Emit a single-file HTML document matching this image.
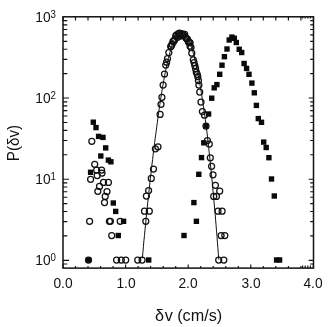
<!DOCTYPE html>
<html><head><meta charset="utf-8"><style>
html,body{margin:0;padding:0;background:#fff;}
body{width:329px;height:327px;position:relative;overflow:hidden;filter:blur(0.35px);font-family:"Liberation Sans",sans-serif;color:#111;}
.t{position:absolute;font-size:14.8px;line-height:13px;white-space:nowrap;}
.yl{text-align:right;width:30px;left:26.2px;transform:scaleX(0.93);transform-origin:100% 50%;}
.yl sup{font-size:10.4px;line-height:0;vertical-align:baseline;position:relative;top:-4.2px;left:-0.2px}
.xl{width:40px;text-align:center;top:277.0px;transform:scaleX(0.93);}
</style></head><body>
<svg width="329" height="327" viewBox="0 0 329 327" style="position:absolute;left:0;top:0">
<rect x="63" y="16.8" width="250.5" height="251.3" fill="none" stroke="#111" stroke-width="1.5"/>
<path d="M63.0,268.1 v-3.6 M63.0,16.8 v4.2 M75.5,268.1 v-2.2 M75.5,16.8 v3.6 M88.0,268.1 v-2.2 M88.0,16.8 v3.6 M100.6,268.1 v-2.2 M100.6,16.8 v3.6 M113.1,268.1 v-2.2 M113.1,16.8 v3.6 M125.6,268.1 v-3.6 M125.6,16.8 v4.2 M138.1,268.1 v-2.2 M138.1,16.8 v3.6 M150.6,268.1 v-2.2 M150.6,16.8 v3.6 M163.2,268.1 v-2.2 M163.2,16.8 v3.6 M175.7,268.1 v-2.2 M175.7,16.8 v3.6 M188.2,268.1 v-3.6 M188.2,16.8 v4.2 M200.7,268.1 v-2.2 M200.7,16.8 v3.6 M213.2,268.1 v-2.2 M213.2,16.8 v3.6 M225.8,268.1 v-2.2 M225.8,16.8 v3.6 M238.3,268.1 v-2.2 M238.3,16.8 v3.6 M250.8,268.1 v-3.6 M250.8,16.8 v4.2 M263.3,268.1 v-2.2 M263.3,16.8 v3.6 M275.8,268.1 v-2.2 M275.8,16.8 v3.6 M288.4,268.1 v-2.2 M288.4,16.8 v3.6 M300.9,268.1 v-2.2 M300.9,16.8 v3.6 M313.4,268.1 v-3.6 M313.4,16.8 v4.2 M63,260.3 h6 M313.5,260.3 h-4.8 M63,235.9 h4.3 M313.5,235.9 h-3.3 M63,221.6 h4.3 M313.5,221.6 h-3.3 M63,211.5 h4.3 M313.5,211.5 h-3.3 M63,203.6 h4.3 M313.5,203.6 h-3.3 M63,197.2 h4.3 M313.5,197.2 h-3.3 M63,191.7 h4.3 M313.5,191.7 h-3.3 M63,187.0 h4.3 M313.5,187.0 h-3.3 M63,182.9 h4.3 M313.5,182.9 h-3.3 M63,179.2 h6 M313.5,179.2 h-4.8 M63,154.7 h4.3 M313.5,154.7 h-3.3 M63,140.5 h4.3 M313.5,140.5 h-3.3 M63,130.3 h4.3 M313.5,130.3 h-3.3 M63,122.5 h4.3 M313.5,122.5 h-3.3 M63,116.0 h4.3 M313.5,116.0 h-3.3 M63,110.6 h4.3 M313.5,110.6 h-3.3 M63,105.9 h4.3 M313.5,105.9 h-3.3 M63,101.8 h4.3 M313.5,101.8 h-3.3 M63,98.0 h6 M313.5,98.0 h-4.8 M63,73.6 h4.3 M313.5,73.6 h-3.3 M63,59.3 h4.3 M313.5,59.3 h-3.3 M63,49.2 h4.3 M313.5,49.2 h-3.3 M63,41.3 h4.3 M313.5,41.3 h-3.3 M63,34.9 h4.3 M313.5,34.9 h-3.3 M63,29.5 h4.3 M313.5,29.5 h-3.3 M63,24.8 h4.3 M313.5,24.8 h-3.3 M63,20.6 h4.3 M313.5,20.6 h-3.3 M63,264.0 h4.3 M313.5,264.0 h-3.3 M302.6,268.1 v-2.6 M302.6,16.8 v1.8 M305.2,268.1 v-2.6 M305.2,16.8 v1.8 M307.8,268.1 v-2.6 M307.8,16.8 v1.8 M310.4,268.1 v-2.6 M310.4,16.8 v1.8" stroke="#111" stroke-width="1.15" fill="none"/>
<path d="M142.3,258.4 L142.9,252.5 L143.4,246.7 L143.9,240.9 L144.5,235.3 L145.0,229.7 L145.6,224.2 L146.1,218.7 L146.7,213.4 L147.2,208.1 L147.7,202.9 L148.3,197.8 L148.8,192.7 L149.4,187.8 L149.9,182.9 L150.4,178.1 L151.0,173.3 L151.5,168.7 L152.0,164.1 L152.6,159.6 L153.1,155.2 L153.6,150.8 L154.2,146.5 L154.7,142.4 L155.2,138.2 L155.8,134.2 L156.3,130.2 L156.8,126.4 L157.3,122.6 L157.8,118.8 L158.3,115.2 L158.8,111.6 L159.3,108.1 L159.8,104.7 L160.3,101.4 L160.8,98.1 L161.3,95.0 L161.8,91.8 L162.3,88.8 L162.8,85.9 L163.3,83.0 L163.8,80.2 L164.3,77.5 L164.8,74.9 L165.3,72.3 L165.8,69.8 L166.3,67.4 L166.8,65.1 L167.3,62.9 L167.8,60.7 L168.3,58.6 L168.8,56.6 L169.3,54.6 L169.8,52.8 L170.3,51.0 L170.8,49.3 L171.3,47.7 L171.8,46.1 L172.3,44.7 L172.8,43.3 L173.3,42.0 L173.8,40.7 L174.3,39.6 L174.8,38.5 L175.3,37.5 L175.8,36.6 L176.3,35.7 L176.8,34.9 L177.3,34.2 L177.8,33.6 L178.3,33.1 L178.8,32.6 L179.3,32.3 L179.8,31.9 L180.3,31.7 L180.8,31.6 L181.3,31.5 L181.8,31.5 L182.3,31.6 L182.8,31.8 L183.3,32.0 L183.8,32.3 L184.3,32.7 L184.8,33.2 L185.3,33.7 L185.8,34.4 L186.3,35.1 L186.8,35.9 L187.3,36.7 L187.8,37.7 L188.3,38.7 L188.8,39.8 L189.3,41.0 L189.8,42.2 L190.3,43.5 L190.8,44.9 L191.3,46.4 L191.8,48.0 L192.3,49.6 L192.8,51.4 L193.3,53.2 L193.8,55.0 L194.3,57.0 L194.8,59.0 L195.3,61.1 L195.8,63.3 L196.3,65.6 L196.8,67.9 L197.3,70.3 L197.8,72.8 L198.3,75.4 L198.8,78.0 L199.3,80.8 L199.8,83.6 L200.3,86.5 L200.8,89.4 L201.3,92.5 L201.8,95.6 L202.3,98.8 L202.8,102.0 L203.3,105.4 L203.8,108.8 L204.3,112.3 L204.8,115.9 L205.3,119.6 L205.8,123.3 L206.3,127.1 L206.8,131.0 L207.3,135.0 L207.7,139.1 L208.2,143.2 L208.7,147.4 L209.1,151.7 L209.6,156.0 L210.1,160.5 L210.5,165.0 L211.0,169.6 L211.5,174.3 L211.9,179.0 L212.4,183.8 L212.8,188.7 L213.3,193.7 L213.8,198.8 L214.2,203.9 L214.7,209.1 L215.2,214.4 L215.6,219.8 L216.1,225.3 L216.5,230.8 L217.0,236.4 L217.4,242.1 L217.9,247.8 L218.3,253.7 L218.8,259.6" stroke="#111" stroke-width="1" fill="none"/>
<rect x="90.6" y="119.5" width="5.4" height="5.4" fill="#0a0a0a"/>
<rect x="93.3" y="124.9" width="5.4" height="5.4" fill="#0a0a0a"/>
<rect x="95.9" y="133.7" width="5.4" height="5.4" fill="#0a0a0a"/>
<rect x="100.3" y="134.7" width="5.4" height="5.4" fill="#0a0a0a"/>
<rect x="103.0" y="145.2" width="5.4" height="5.4" fill="#0a0a0a"/>
<rect x="98.1" y="153.3" width="5.4" height="5.4" fill="#0a0a0a"/>
<rect x="105.7" y="157.4" width="5.4" height="5.4" fill="#0a0a0a"/>
<rect x="108.2" y="159.1" width="5.4" height="5.4" fill="#0a0a0a"/>
<rect x="87.9" y="169.6" width="5.4" height="5.4" fill="#0a0a0a"/>
<rect x="110.6" y="200.3" width="5.4" height="5.4" fill="#0a0a0a"/>
<rect x="113.0" y="208.7" width="5.4" height="5.4" fill="#0a0a0a"/>
<rect x="120.9" y="218.6" width="5.4" height="5.4" fill="#0a0a0a"/>
<rect x="115.6" y="232.8" width="5.4" height="5.4" fill="#0a0a0a"/>
<rect x="85.8" y="257.3" width="5.4" height="5.4" fill="#0a0a0a"/>
<rect x="146.0" y="257.3" width="5.4" height="5.4" fill="#0a0a0a"/>
<rect x="181.3" y="232.8" width="5.4" height="5.4" fill="#0a0a0a"/>
<rect x="193.7" y="218.6" width="5.4" height="5.4" fill="#0a0a0a"/>
<rect x="191.2" y="199.9" width="5.4" height="5.4" fill="#0a0a0a"/>
<rect x="196.1" y="171.6" width="5.4" height="5.4" fill="#0a0a0a"/>
<rect x="198.8" y="154.9" width="5.4" height="5.4" fill="#0a0a0a"/>
<rect x="201.1" y="140.1" width="5.4" height="5.4" fill="#0a0a0a"/>
<rect x="203.3" y="123.3" width="5.4" height="5.4" fill="#0a0a0a"/>
<rect x="205.9" y="111.3" width="5.4" height="5.4" fill="#0a0a0a"/>
<rect x="209.0" y="95.5" width="5.4" height="5.4" fill="#0a0a0a"/>
<rect x="211.5" y="85.1" width="5.4" height="5.4" fill="#0a0a0a"/>
<rect x="214.2" y="81.9" width="5.4" height="5.4" fill="#0a0a0a"/>
<rect x="217.0" y="71.6" width="5.4" height="5.4" fill="#0a0a0a"/>
<rect x="219.3" y="62.5" width="5.4" height="5.4" fill="#0a0a0a"/>
<rect x="221.7" y="54.0" width="5.4" height="5.4" fill="#0a0a0a"/>
<rect x="224.3" y="46.3" width="5.4" height="5.4" fill="#0a0a0a"/>
<rect x="226.5" y="37.3" width="5.4" height="5.4" fill="#0a0a0a"/>
<rect x="229.2" y="34.4" width="5.4" height="5.4" fill="#0a0a0a"/>
<rect x="231.6" y="35.6" width="5.4" height="5.4" fill="#0a0a0a"/>
<rect x="233.6" y="39.8" width="5.4" height="5.4" fill="#0a0a0a"/>
<rect x="236.5" y="46.6" width="5.4" height="5.4" fill="#0a0a0a"/>
<rect x="239.0" y="49.8" width="5.4" height="5.4" fill="#0a0a0a"/>
<rect x="241.4" y="60.8" width="5.4" height="5.4" fill="#0a0a0a"/>
<rect x="243.9" y="65.7" width="5.4" height="5.4" fill="#0a0a0a"/>
<rect x="246.3" y="71.6" width="5.4" height="5.4" fill="#0a0a0a"/>
<rect x="249.2" y="80.4" width="5.4" height="5.4" fill="#0a0a0a"/>
<rect x="251.6" y="90.1" width="5.4" height="5.4" fill="#0a0a0a"/>
<rect x="253.7" y="102.7" width="5.4" height="5.4" fill="#0a0a0a"/>
<rect x="255.6" y="115.9" width="5.4" height="5.4" fill="#0a0a0a"/>
<rect x="258.8" y="119.6" width="5.4" height="5.4" fill="#0a0a0a"/>
<rect x="261.0" y="139.4" width="5.4" height="5.4" fill="#0a0a0a"/>
<rect x="263.5" y="144.8" width="5.4" height="5.4" fill="#0a0a0a"/>
<rect x="266.2" y="155.0" width="5.4" height="5.4" fill="#0a0a0a"/>
<rect x="268.8" y="176.3" width="5.4" height="5.4" fill="#0a0a0a"/>
<rect x="271.6" y="193.3" width="5.4" height="5.4" fill="#0a0a0a"/>
<rect x="273.9" y="257.3" width="5.4" height="5.4" fill="#0a0a0a"/>
<rect x="276.9" y="257.3" width="5.4" height="5.4" fill="#0a0a0a"/>
<circle cx="91.8" cy="141.3" r="3" fill="none" stroke="#111" stroke-width="1.25"/>
<circle cx="94.7" cy="164.3" r="3" fill="none" stroke="#111" stroke-width="1.25"/>
<circle cx="96.7" cy="170" r="3" fill="none" stroke="#111" stroke-width="1.25"/>
<circle cx="101.6" cy="170" r="3" fill="none" stroke="#111" stroke-width="1.25"/>
<circle cx="102" cy="173" r="3" fill="none" stroke="#111" stroke-width="1.25"/>
<circle cx="97.2" cy="175.5" r="3" fill="none" stroke="#111" stroke-width="1.25"/>
<circle cx="90.6" cy="179.3" r="3" fill="none" stroke="#111" stroke-width="1.25"/>
<circle cx="103.5" cy="182.4" r="3" fill="none" stroke="#111" stroke-width="1.25"/>
<circle cx="108.4" cy="182.4" r="3" fill="none" stroke="#111" stroke-width="1.25"/>
<circle cx="99.5" cy="186.4" r="3" fill="none" stroke="#111" stroke-width="1.25"/>
<circle cx="97.8" cy="191.3" r="3" fill="none" stroke="#111" stroke-width="1.25"/>
<circle cx="107" cy="191.5" r="3" fill="none" stroke="#111" stroke-width="1.25"/>
<circle cx="105.2" cy="196.4" r="3" fill="none" stroke="#111" stroke-width="1.25"/>
<circle cx="104.5" cy="202.5" r="3" fill="none" stroke="#111" stroke-width="1.25"/>
<circle cx="89.6" cy="221.3" r="3" fill="none" stroke="#111" stroke-width="1.25"/>
<circle cx="109.4" cy="221.3" r="3" fill="none" stroke="#111" stroke-width="1.25"/>
<circle cx="110.4" cy="221.3" r="3" fill="none" stroke="#111" stroke-width="1.25"/>
<circle cx="120.2" cy="221.3" r="3" fill="none" stroke="#111" stroke-width="1.25"/>
<circle cx="111.7" cy="235.5" r="3" fill="none" stroke="#111" stroke-width="1.25"/>
<circle cx="88.5" cy="260" r="3" fill="none" stroke="#111" stroke-width="1.25"/>
<circle cx="116.6" cy="260" r="3" fill="none" stroke="#111" stroke-width="1.25"/>
<circle cx="121.3" cy="260" r="3" fill="none" stroke="#111" stroke-width="1.25"/>
<circle cx="125.7" cy="260" r="3" fill="none" stroke="#111" stroke-width="1.25"/>
<circle cx="137.7" cy="260" r="3" fill="none" stroke="#111" stroke-width="1.25"/>
<circle cx="142.1" cy="260" r="3" fill="none" stroke="#111" stroke-width="1.25"/>
<circle cx="145.8" cy="221.3" r="3" fill="none" stroke="#111" stroke-width="1.25"/>
<circle cx="144.5" cy="211.2" r="3" fill="none" stroke="#111" stroke-width="1.25"/>
<circle cx="149.3" cy="211.2" r="3" fill="none" stroke="#111" stroke-width="1.25"/>
<circle cx="146.4" cy="196" r="3" fill="none" stroke="#111" stroke-width="1.25"/>
<circle cx="148.6" cy="190.6" r="3" fill="none" stroke="#111" stroke-width="1.25"/>
<circle cx="151.3" cy="178.4" r="3" fill="none" stroke="#111" stroke-width="1.25"/>
<circle cx="153.5" cy="169.1" r="3" fill="none" stroke="#111" stroke-width="1.25"/>
<circle cx="155.4" cy="148.8" r="3" fill="none" stroke="#111" stroke-width="1.25"/>
<circle cx="158" cy="146.8" r="3" fill="none" stroke="#111" stroke-width="1.25"/>
<circle cx="160.1" cy="114.4" r="3" fill="none" stroke="#111" stroke-width="1.25"/>
<circle cx="161" cy="104.3" r="3" fill="none" stroke="#111" stroke-width="1.25"/>
<circle cx="161.9" cy="97.3" r="3" fill="none" stroke="#111" stroke-width="1.25"/>
<circle cx="163.1" cy="85.1" r="3" fill="none" stroke="#111" stroke-width="1.25"/>
<circle cx="164.5" cy="74" r="3" fill="none" stroke="#111" stroke-width="1.25"/>
<circle cx="165.7" cy="65" r="3" fill="none" stroke="#111" stroke-width="1.25"/>
<circle cx="167.5" cy="58.5" r="3" fill="none" stroke="#111" stroke-width="1.25"/>
<circle cx="166.6" cy="62.2" r="3" fill="none" stroke="#111" stroke-width="1.25"/>
<circle cx="168.8" cy="52.5" r="3" fill="none" stroke="#111" stroke-width="1.25"/>
<circle cx="170.7" cy="46.5" r="3" fill="none" stroke="#111" stroke-width="1.25"/>
<circle cx="194.1" cy="62.5" r="3" fill="none" stroke="#111" stroke-width="1.25"/>
<circle cx="195.6" cy="68.7" r="3" fill="none" stroke="#111" stroke-width="1.25"/>
<circle cx="197.2" cy="74.3" r="3" fill="none" stroke="#111" stroke-width="1.25"/>
<circle cx="198.4" cy="80.5" r="3" fill="none" stroke="#111" stroke-width="1.25"/>
<circle cx="190" cy="46" r="3" fill="none" stroke="#111" stroke-width="1.25"/>
<circle cx="191.8" cy="53.2" r="3" fill="none" stroke="#111" stroke-width="1.25"/>
<circle cx="193.3" cy="59.8" r="3" fill="none" stroke="#111" stroke-width="1.25"/>
<circle cx="194.8" cy="65.5" r="3" fill="none" stroke="#111" stroke-width="1.25"/>
<circle cx="196.3" cy="72" r="3" fill="none" stroke="#111" stroke-width="1.25"/>
<circle cx="197.8" cy="76.7" r="3" fill="none" stroke="#111" stroke-width="1.25"/>
<circle cx="198.9" cy="85" r="3" fill="none" stroke="#111" stroke-width="1.25"/>
<circle cx="199.7" cy="92" r="3" fill="none" stroke="#111" stroke-width="1.25"/>
<circle cx="201" cy="102" r="3" fill="none" stroke="#111" stroke-width="1.25"/>
<circle cx="202.4" cy="111.5" r="3" fill="none" stroke="#111" stroke-width="1.25"/>
<circle cx="204.5" cy="115.2" r="3" fill="none" stroke="#111" stroke-width="1.25"/>
<circle cx="206" cy="126" r="3" fill="none" stroke="#111" stroke-width="1.25"/>
<circle cx="207.4" cy="140.6" r="3" fill="none" stroke="#111" stroke-width="1.25"/>
<circle cx="209.3" cy="144" r="3" fill="none" stroke="#111" stroke-width="1.25"/>
<circle cx="210.3" cy="157.8" r="3" fill="none" stroke="#111" stroke-width="1.25"/>
<circle cx="211.6" cy="166.3" r="3" fill="none" stroke="#111" stroke-width="1.25"/>
<circle cx="213" cy="174.8" r="3" fill="none" stroke="#111" stroke-width="1.25"/>
<circle cx="215.4" cy="185.3" r="3" fill="none" stroke="#111" stroke-width="1.25"/>
<circle cx="219.7" cy="191" r="3" fill="none" stroke="#111" stroke-width="1.25"/>
<circle cx="213.7" cy="196.4" r="3" fill="none" stroke="#111" stroke-width="1.25"/>
<circle cx="216.4" cy="196.4" r="3" fill="none" stroke="#111" stroke-width="1.25"/>
<circle cx="218" cy="211.2" r="3" fill="none" stroke="#111" stroke-width="1.25"/>
<circle cx="222.1" cy="211.2" r="3" fill="none" stroke="#111" stroke-width="1.25"/>
<circle cx="221.1" cy="235.6" r="3" fill="none" stroke="#111" stroke-width="1.25"/>
<circle cx="224.8" cy="235.6" r="3" fill="none" stroke="#111" stroke-width="1.25"/>
<circle cx="218.7" cy="260" r="3" fill="none" stroke="#111" stroke-width="1.25"/>
<circle cx="223.8" cy="260" r="3" fill="none" stroke="#111" stroke-width="1.25"/>
<circle cx="171.2" cy="46.0" r="3" fill="none" stroke="#111" stroke-width="1.25"/>
<circle cx="172.1" cy="44.2" r="3" fill="none" stroke="#111" stroke-width="1.25"/>
<circle cx="173.0" cy="41.3" r="3" fill="none" stroke="#111" stroke-width="1.25"/>
<circle cx="173.9" cy="41.2" r="3" fill="none" stroke="#111" stroke-width="1.25"/>
<circle cx="174.8" cy="39.4" r="3" fill="none" stroke="#111" stroke-width="1.25"/>
<circle cx="175.7" cy="35.8" r="3" fill="none" stroke="#111" stroke-width="1.25"/>
<circle cx="176.6" cy="34.8" r="3" fill="none" stroke="#111" stroke-width="1.25"/>
<circle cx="177.5" cy="37.2" r="3" fill="none" stroke="#111" stroke-width="1.25"/>
<circle cx="178.4" cy="33.8" r="3" fill="none" stroke="#111" stroke-width="1.25"/>
<circle cx="179.3" cy="33.1" r="3" fill="none" stroke="#111" stroke-width="1.25"/>
<circle cx="180.2" cy="36.0" r="3" fill="none" stroke="#111" stroke-width="1.25"/>
<circle cx="181.1" cy="33.6" r="3" fill="none" stroke="#111" stroke-width="1.25"/>
<circle cx="182.0" cy="35.3" r="3" fill="none" stroke="#111" stroke-width="1.25"/>
<circle cx="182.9" cy="34.2" r="3" fill="none" stroke="#111" stroke-width="1.25"/>
<circle cx="183.8" cy="35.5" r="3" fill="none" stroke="#111" stroke-width="1.25"/>
<circle cx="184.7" cy="34.3" r="3" fill="none" stroke="#111" stroke-width="1.25"/>
<circle cx="185.6" cy="37.5" r="3" fill="none" stroke="#111" stroke-width="1.25"/>
<circle cx="186.5" cy="38.6" r="3" fill="none" stroke="#111" stroke-width="1.25"/>
<circle cx="187.4" cy="39.0" r="3" fill="none" stroke="#111" stroke-width="1.25"/>
<circle cx="188.3" cy="41.7" r="3" fill="none" stroke="#111" stroke-width="1.25"/>
<circle cx="189.2" cy="42.2" r="3" fill="none" stroke="#111" stroke-width="1.25"/>
<circle cx="190.1" cy="42.8" r="3" fill="none" stroke="#111" stroke-width="1.25"/>
<circle cx="191.0" cy="47.5" r="3" fill="none" stroke="#111" stroke-width="1.25"/>
</svg>
<div class="t yl" style="top:11.0px">10<sup>3</sup></div>
<div class="t yl" style="top:92.1px">10<sup>2</sup></div>
<div class="t yl" style="top:173.3px">10<sup>1</sup></div>
<div class="t yl" style="top:254.4px">10<sup>0</sup></div>
<div class="t xl" style="left:43.0px">0.0</div>
<div class="t xl" style="left:105.6px">1.0</div>
<div class="t xl" style="left:168.2px">2.0</div>
<div class="t xl" style="left:230.8px">3.0</div>
<div class="t xl" style="left:293.4px">4.0</div>
<div class="t" id="xlab" style="left:155px;top:307.1px;font-size:16.2px;line-height:16px;"><span style="letter-spacing:0.6px">δ</span>v (cm/s)</div>
<div class="t" id="ylab" style="left:12.8px;top:143px;font-size:16.3px;line-height:16px;transform:translate(-50%,-50%) rotate(-90deg) scaleX(0.935);">P(δv)</div>
</body></html>
